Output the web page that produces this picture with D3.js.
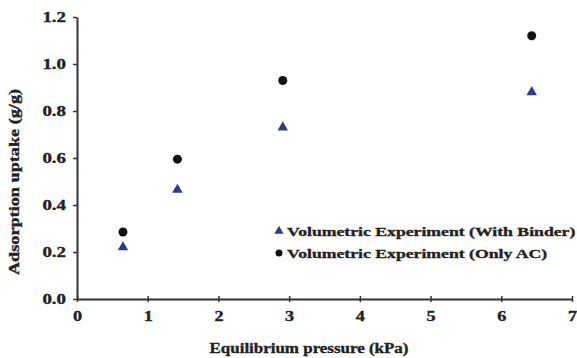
<!DOCTYPE html>
<html>
<head>
<meta charset="utf-8">
<script src="https://cdn.jsdelivr.net/npm/d3@7"></script>
<style>
  body { margin: 0; background: #fff; }
  text { font-family: "Liberation Serif", "Times New Roman", serif; font-weight: bold; fill: #222; stroke: #222; stroke-width: 0.35; }
</style>
</head>
<body>
<div id="chart"></div>
<script>
// pressure (kPa) for each measurement
const pressures = [0.65, 1.42, 2.91, 6.43];
const withBinder = [0.22, 0.465, 0.73, 0.88];
const onlyAC = [0.285, 0.595, 0.93, 1.12];
const seriesNames = ["Volumetric Experiment (With Binder)", "Volumetric Experiment (Only AC)"];
const xTicks = [0, 1, 2, 3, 4, 5, 6, 7];
const yTicks = [0, 0.2, 0.4, 0.6, 0.8, 1.0, 1.2];

let W = 577, H = 358;
let margin = { top: 17, right: 5, bottom: 59, left: 77 },
  width = W - margin.left - margin.right,
  height = H - margin.top - margin.bottom;

let svg = d3.select('#chart').append('svg')
  .attr('width', W)
  .attr('height', H);

let g = svg.append('g')
  .attr('transform', 'translate(' + margin.left + ',' + margin.top + ')');

let x = d3.scaleLinear().domain([0, 7]).range([0, width]);
let y = d3.scaleLinear().domain([0, 1.2]).range([height, 0]);

// the source picture is stretched sideways, so widen the text a bit
function stretch(sel, k) {
  sel.each(function () {
    let t = d3.select(this);
    let len = this.getComputedTextLength();
    t.attr('textLength', len * k).attr('lengthAdjust', 'spacingAndGlyphs');
  });
}

// y axis
let yAxis = g.append('g')
  .call(d3.axisLeft(y).tickValues(yTicks).tickFormat(d3.format('.1f')).tickSize(4).tickSizeOuter(0));
yAxis.select('.domain').attr('stroke', '#333').attr('stroke-width', 2);
yAxis.selectAll('.tick line').attr('stroke', '#333').attr('stroke-width', 1.5);
yAxis.selectAll('.tick text').attr('font-size', 14).attr('x', -11)
  .style('font-family', '"Liberation Serif", serif').style('font-weight', 'bold').attr('fill', '#222');
stretch(yAxis.selectAll('.tick text'), 1.35);

// x axis
let xAxis = g.append('g')
  .attr('transform', 'translate(0,' + height + ')')
  .call(d3.axisBottom(x).tickValues(xTicks).tickFormat(d3.format('d')).tickSize(3).tickSizeOuter(0));
xAxis.select('.domain').attr('stroke', '#333').attr('stroke-width', 2);
xAxis.selectAll('.tick line').attr('stroke', '#333').attr('stroke-width', 1.5).attr('y1', -3);
xAxis.selectAll('.tick text').attr('font-size', 14).attr('y', 12)
  .style('font-family', '"Liberation Serif", serif').style('font-weight', 'bold').attr('fill', '#222');
stretch(xAxis.selectAll('.tick text'), 1.3);

// axis titles
svg.append('text')
  .attr('x', 309).attr('y', 353)
  .attr('text-anchor', 'middle')
  .attr('font-size', 14)
  .text('Equilibrium pressure (kPa)')
  .call(stretch, 1.21);

svg.append('text')
  .attr('transform', 'translate(19,182) rotate(-90)')
  .attr('text-anchor', 'middle')
  .attr('font-size', 14)
  .text('Adsorption uptake (g/g)')
  .call(stretch, 1.3);

let tri = d3.symbol().type(d3.symbolTriangle).size(48);

// series: with binder (triangles)
g.selectAll('.tri')
  .data(pressures.map((p, i) => [p, withBinder[i]]))
  .enter().append('path')
  .attr('class', 'tri')
  .attr('d', tri)
  .attr('fill', '#2b3c8f')
  .attr('transform', d => 'translate(' + x(d[0]) + ',' + y(d[1]) + ')');

// series: only AC (circles)
g.selectAll('.dot')
  .data(pressures.map((p, i) => [p, onlyAC[i]]))
  .enter().append('circle')
  .attr('class', 'dot')
  .attr('r', 4.5)
  .attr('fill', '#111')
  .attr('cx', d => x(d[0]))
  .attr('cy', d => y(d[1]));

// legend
let legend = svg.append('g').attr('transform', 'translate(279,231)');
legend.append('path').attr('d', d3.symbol().type(d3.symbolTriangle).size(36)).attr('fill', '#2b3c8f');
legend.append('text').attr('x', 8).attr('y', 5).attr('font-size', 13.5).text(seriesNames[0]).call(stretch, 1.31);
legend.append('circle').attr('cy', 22).attr('r', 3.5).attr('fill', '#111');
legend.append('text').attr('x', 8).attr('y', 27).attr('font-size', 13.5).text(seriesNames[1]).call(stretch, 1.31);
</script>
</body>
</html>
